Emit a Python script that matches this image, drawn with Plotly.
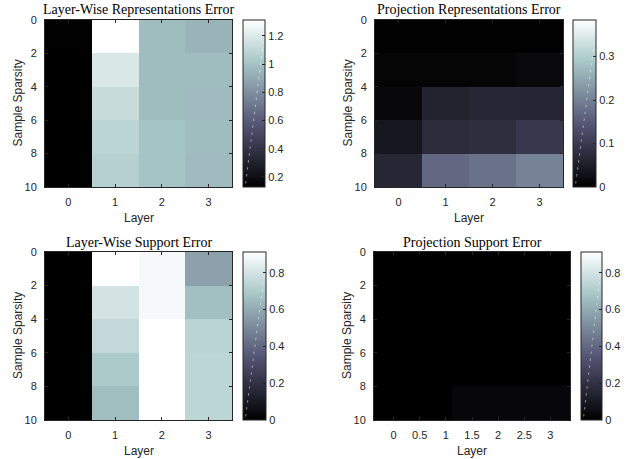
import math
import plotly.graph_objects as go

# ---------------- data ----------------
layers = [0, 1, 2, 3]
layers_proj_support = [0, 0.75, 1.5, 2.25, 3]
sparsity = [1, 3, 5, 7, 9]

lw_rep_err = [
    [0.135, 1.313, 0.976, 0.944],
    [0.130, 1.185, 0.976, 0.975],
    [0.130, 1.125, 0.976, 0.972],
    [0.130, 1.085, 1.005, 0.975],
    [0.130, 1.065, 1.005, 0.972],
]
proj_rep_err = [
    [0.002, 0.002, 0.002, 0.002],
    [0.008, 0.008, 0.008, 0.015],
    [0.014, 0.060, 0.065, 0.063],
    [0.038, 0.074, 0.078, 0.095],
    [0.065, 0.169, 0.182, 0.203],
]
lw_sup_err = [
    [0.0, 0.913, 0.890, 0.572],
    [0.0, 0.800, 0.890, 0.663],
    [0.0, 0.757, 0.913, 0.735],
    [0.0, 0.697, 0.913, 0.740],
    [0.0, 0.655, 0.913, 0.740],
]
proj_sup_err = [
    [0.0, 0.0, 0.0, 0.0, 0.0],
    [0.0, 0.0, 0.0, 0.0, 0.0],
    [0.0, 0.0, 0.0, 0.0, 0.0],
    [0.0, 0.0, 0.0, 0.0, 0.0],
    [0.0, 0.0, 0.030, 0.030, 0.030],
]

titles = ["Layer-Wise Representations Error", "Projection Representations Error",
          "Layer-Wise Support Error", "Projection Support Error"]
clims = [(0.129, 1.313), (0.0, 0.384), (0.0, 0.913), (0.0, 0.913)]
cbar_ticks = [[0.2, 0.4, 0.6, 0.8, 1, 1.2], [0, 0.1, 0.2, 0.3],
              [0, 0.2, 0.4, 0.6, 0.8], [0, 0.2, 0.4, 0.6, 0.8]]
x_ticks = [[0, 1, 2, 3], [0, 1, 2, 3], [0, 1, 2, 3], [0, 0.5, 1, 1.5, 2, 2.5, 3]]
y_ticks = [0, 2, 4, 6, 8, 10]

# ---------------- style ----------------
W, H = 630, 459
TXT = "#262626"
SANS = "Liberation Sans, Arial, sans-serif"
SERIF = "Liberation Serif, Times New Roman, serif"


def bone(t):
    rh = min(1.0, 8 * t / 3)
    gh = min(1.0, max(0.0, 8 * t / 3 - 1))
    bh = min(1.0, max(0.0, 4 * t - 3))
    r, g, b = (7 * t + bh) / 8, (7 * t + gh) / 8, (7 * t + rh) / 8
    return "rgb(%d,%d,%d)" % (round(r * 255), round(g * 255), round(b * 255))


bone_scale = [[t, bone(t)] for t in (0.0, 0.375, 0.75, 1.0)]

# pixel boxes: (x0, x1, y0_top, y1_bottom)
plot_px = [(45, 232, 20, 187), (375, 563, 20, 187), (45, 232, 252, 420), (374, 570, 252, 420)]
cbar_px = [(243, 267, 20, 187), (573, 598, 20, 187), (243, 268, 252, 420), (581, 604, 252, 420)]

xs = [layers, layers, layers, layers_proj_support]
zs = [lw_rep_err, proj_rep_err, lw_sup_err, proj_sup_err]
xranges = [[-0.5, 3.5]] * 3 + [[-0.375, 3.375]]

fig = go.Figure()
layout = dict(width=W, height=H, margin=dict(l=0, r=0, t=0, b=0, autoexpand=False),
              paper_bgcolor="white", plot_bgcolor="white", showlegend=False,
              annotations=[])

for i in range(4):
    n = "" if i == 0 else str(i + 1)
    x0, x1, y0, y1 = plot_px[i]
    cx0, cx1, cy0, cy1 = cbar_px[i]
    fig.add_trace(go.Heatmap(x=xs[i], y=sparsity, z=zs[i], coloraxis="coloraxis" + n,
                             xaxis="x" + n, yaxis="y" + n, hoverinfo="skip"))
    layout["xaxis" + n] = dict(domain=[x0 / W, x1 / W], range=xranges[i], anchor="y" + n,
                               tickvals=x_ticks[i], ticks="inside", ticklen=3, tickcolor=TXT,
                               showline=True, linecolor=TXT, linewidth=1, mirror="ticks",
                               showgrid=False, zeroline=False, ticklabelstandoff=5,
                               tickfont=dict(family=SANS, size=11, color=TXT))
    layout["yaxis" + n] = dict(domain=[1 - y1 / H, 1 - y0 / H], range=[10, 0], anchor="x" + n,
                               tickvals=y_ticks, ticks="inside", ticklen=3, tickcolor=TXT,
                               showline=True, linecolor=TXT, linewidth=1, mirror="ticks",
                               showgrid=False, zeroline=False, ticklabelstandoff=5,
                               tickfont=dict(family=SANS, size=11, color=TXT))
    layout["coloraxis" + n] = dict(
        colorscale=bone_scale, cmin=clims[i][0], cmax=clims[i][1],
        colorbar=dict(x=cx0 / W, xanchor="left", xpad=0, ypad=0,
                      y=1 - (cy0 + cy1) / 2 / H, yanchor="middle",
                      len=cy1 - cy0, lenmode="pixels", thickness=cx1 - cx0 - 2,
                      outlinewidth=1, outlinecolor=TXT, tickvals=cbar_ticks[i],
                      ticks="inside", ticklen=3, tickcolor=TXT,
                      tickfont=dict(family=SANS, size=11, color=TXT)))
    xc = (x0 + x1) / 2 / W
    layout["annotations"].append(dict(text=titles[i], x=xc, y=1 - (y0 - 10) / H, xref="paper",
                                      yref="paper", showarrow=False, xanchor="center",
                                      yanchor="middle",
                                      font=dict(family=SERIF, size=14, color="black")))
    layout["annotations"].append(dict(text="Layer", x=xc, y=1 - (y1 + 31) / H, xref="paper",
                                      yref="paper", showarrow=False, xanchor="center",
                                      yanchor="middle",
                                      font=dict(family=SANS, size=12, color=TXT)))
    layout["annotations"].append(dict(text="Sample Sparsity", x=(x0 - 27) / W,
                                      y=1 - (y0 + y1) / 2 / H, xref="paper", yref="paper",
                                      showarrow=False, xanchor="center", yanchor="middle",
                                      textangle=-90,
                                      font=dict(family=SANS, size=12, color=TXT)))
    # faint dashed diagonal artefact inside each colour bar (short arrow-less segments)
    sx, sy = cx0 + 2.5, cy1 - 2
    ex, ey = cx1 - 3.5, cy0 + 21
    L = math.hypot(ex - sx, ey - sy)
    ux, uy = (ex - sx) / L, (ey - sy) / L
    s = 0.0
    while s < L:
        d = min(4.0, L - s)
        px0, py0 = sx + ux * s, sy + uy * s
        layout["annotations"].append(dict(
            text="", x=(px0 + ux * d) / W, y=1 - (py0 + uy * d) / H, xref="paper", yref="paper",
            showarrow=True, arrowhead=0, arrowwidth=1, arrowcolor="rgba(255,255,255,0.5)",
            ax=-ux * d, ay=-uy * d, standoff=0, startstandoff=0))
        s += 7.0

fig.update_layout(**layout)
fig.write_html("out.html", post_script="document.body.style.margin='0';",
               config={"displayModeBar": False})
